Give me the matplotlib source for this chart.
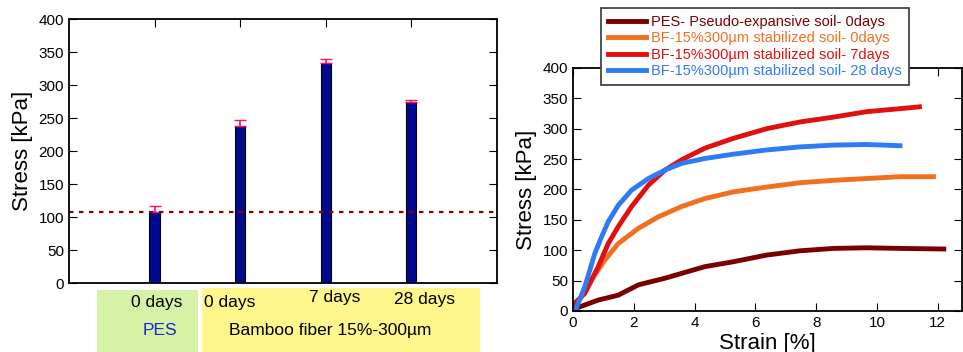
import matplotlib
matplotlib.use("Agg")
import matplotlib.pyplot as plt
from matplotlib.patches import Rectangle

# left panel: UCS bars
bar_pos = [1, 2, 3, 4]
bar_vals = [108, 238, 333, 275]
bar_err = [8, 9, 6, 2]
pes_ref = 108

# right panel: stress-strain curves
pes_x = [0, 0.07, 0.83, 1.49, 2.15, 3.03, 4.34, 5.27, 6.37, 7.46, 8.56, 9.66, 10.76, 12.2]
pes_y = [0, 4, 18, 26, 43, 54, 73, 81, 92, 99, 103, 104, 103, 102]
bf0_x = [0, 0.07, 0.61, 1.05, 1.49, 2.15, 2.81, 3.58, 4.34, 5.27, 6.37, 7.46, 8.56, 9.66, 10.76, 11.86]
bf0_y = [0, 7, 51, 84, 111, 136, 155, 172, 185, 196, 204, 211, 215, 218, 221, 221]
bf7_x = [0, 0.39, 0.83, 1.16, 1.49, 1.93, 2.48, 3.03, 3.58, 4.34, 5.27, 6.37, 7.46, 8.56, 9.66, 10.76, 11.4]
bf7_y = [10, 29, 73, 111, 139, 172, 207, 232, 249, 268, 284, 300, 311, 319, 328, 333, 336]
bf28_x = [0.07, 0.39, 0.72, 0.94, 1.16, 1.49, 1.93, 2.48, 3.03, 3.58, 4.34, 5.27, 6.37, 7.46, 8.56, 9.66, 10.76]
bf28_y = [0, 40, 95, 122, 147, 174, 199, 218, 232, 243, 251, 258, 265, 270, 273, 274, 272]

labels = ["PES- Pseudo-expansive soil- 0days",
          "BF-15%300µm stabilized soil- 0days",
          "BF-15%300µm stabilized soil- 7days",
          "BF-15%300µm stabilized soil- 28 days"]
colors = ["#7a0000", "#f07020", "#e01010", "#2f7bf5"]

fig = plt.figure(figsize=(9.63, 3.52), dpi=100)
plt.rcParams['font.family'] = ['Liberation Sans', 'DejaVu Sans']

ax1 = fig.add_axes([0.0717, 0.196, 0.4443, 0.75])
ax1.bar(bar_pos, bar_vals, width=0.12, color="#000a90", edgecolor="black", linewidth=0.8)
ax1.errorbar(bar_pos, bar_vals, yerr=[[0]*4, bar_err], fmt="none", ecolor="#ff1060",
             capsize=4, elinewidth=1.2)
ax1.axhline(pes_ref, color="#8b0000", linestyle=(0, (2, 2.5)), linewidth=1.6)
ax1.set_xlim(0, 5)
ax1.set_ylim(0, 400)
ax1.set_yticks(range(0, 401, 50))
ax1.set_xticks(bar_pos)
ax1.tick_params(axis="x", labelbottom=False, bottom=False, top=True, direction="in", length=6)
ax1.tick_params(axis="y", right=True, direction="in", length=6, labelsize=11)
ax1.set_ylabel("Stress [kPa]", fontsize=16, labelpad=4)
for s in ax1.spines.values():
    s.set_linewidth(1.3)

# category boxes below the bar chart
fig.patches.append(Rectangle((0.1007, 0.0), 0.105, 0.176, transform=fig.transFigure,
                             facecolor="#d6f2a6", edgecolor="none"))
fig.patches.append(Rectangle((0.2098, 0.0), 0.2887, 0.182, transform=fig.transFigure,
                             facecolor="#fff68c", edgecolor="none"))
fig.text(0.163, 0.142, "0 days", fontsize=12.5, ha="center", va="center")
fig.text(0.239, 0.142, "0 days", fontsize=12.5, ha="center", va="center")
fig.text(0.348, 0.154, "7 days", fontsize=12.5, ha="center", va="center")
fig.text(0.441, 0.148, "28 days", fontsize=12.5, ha="center", va="center")
fig.text(0.166, 0.062, "PES", fontsize=12.5, ha="center", va="center", color="#1a2acc")
fig.text(0.343, 0.062, "Bamboo fiber 15%-300µm", fontsize=12.5, ha="center", va="center")

ax2 = fig.add_axes([0.595, 0.1165, 0.404, 0.6905])
series = [(pes_x, pes_y), (bf0_x, bf0_y), (bf7_x, bf7_y), (bf28_x, bf28_y)]
for (x, y), c, lab in zip(series, colors, labels):
    ax2.plot(x, y, color=c, linewidth=3.5, label=lab)
ax2.set_xlim(0, 12.8)
ax2.set_ylim(0, 400)
ax2.set_xticks(range(0, 13, 2))
ax2.set_yticks(range(0, 401, 50))
ax2.tick_params(direction="in", top=True, right=True, length=6, labelsize=11)
ax2.set_xlabel("Strain [%]", fontsize=16, labelpad=2)
ax2.set_ylabel("Stress [kPa]", fontsize=16, labelpad=4)
for s in ax2.spines.values():
    s.set_linewidth(1.3)

leg = ax2.legend(loc="upper left", bbox_to_anchor=(601 / 963, 1 - 8 / 352),
                 bbox_transform=fig.transFigure, borderaxespad=0, frameon=True,
                 fancybox=False, edgecolor="#444444", fontsize=10.5, handlelength=2.6,
                 borderpad=0.5, labelspacing=0.15, handletextpad=0.3, framealpha=1)
leg.get_frame().set_linewidth(1.3)
for txt, c in zip(leg.get_texts(), colors):
    txt.set_color(c)

fig.savefig("out.png", dpi=100)
